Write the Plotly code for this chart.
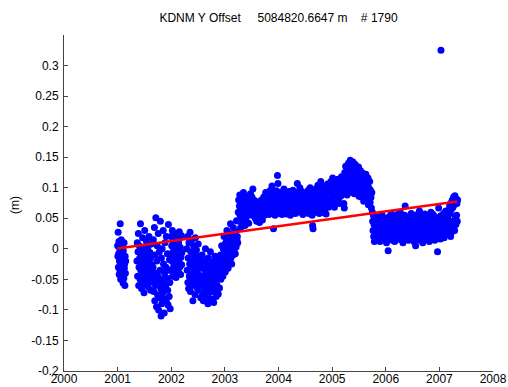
import numpy as np
import plotly.graph_objects as go

# ---- data (in mm) ----
seg_epochs = [
    (2001.00, 2001.15),  # A
    (2001.36, 2001.65),  # B1
    (2001.66, 2001.98),  # B2
    (2001.99, 2002.20),  # B3
    (2002.29, 2002.55),  # C1
    (2002.56, 2002.90),  # C2
    (2002.91, 2003.24),  # C3
    (2003.25, 2003.45),  # D1
    (2003.46, 2003.85),  # D2
    (2003.86, 2004.50),  # D3
    (2004.51, 2004.95),  # D4
    (2004.96, 2005.20),  # D5
    (2005.21, 2005.50),  # D6
    (2005.51, 2005.74),  # D7
    (2005.75, 2005.82),  # E1
    (2005.83, 2007.15),  # E2
    (2007.16, 2007.34),  # E3
]

seg_A = [5, -12, 27, -30, -8, 12, -42, -20, 0, -35, 41, -18, -50, -5, 15, -28,
         -45, -10, 8, -38, -22, -56, -3, -15, -48, 10, -32, -25, -60, -12, -40, -20]
seg_B1 = [-20, 10, -45, -5, 25, -60, -30, 5, -15, -50, 41, -35, -10, -65, 0, -25,
          18, -55, -40, -8, -72, -18, 30, -48, -2, -33, -58, 12, -22, -44, -12, 3,
          -62, -28, 20, -38, -52, -6, -16, -68, 8, -42, -26, -54, -35]
seg_B2 = [-30, 15, -70, -50, 35, -85, -10, -60, 51, -40, -95, -20, 5, -75, -45, 25,
          -100, -55, -5, -80, -35, 45, -65, -110, -15, -90, 0, -50, -72, 30, -25,
          -58, -105, -40, 10, -82, -62, -30, 20, -88, -48, -8, -68, -92, 40, -35,
          -78, -18, -55, -98]
seg_B3 = [-10, 20, -35, 5, -20, 30, -45, -5, 12, -28, -15, 25, -40, 0, -22, 15, -47,
          -12, 8, -32, 18, -25, -3, -38, 10, -18, 28, -30, -8, 2, -42, -14, 22, -26, -6]
seg_C1 = [0, -35, 20, -55, -15, -65, 10, -45, -25, 27, -70, -5, -50, -30, 15, -60,
          -20, -85, -40, 5, -10, -55, -35, -75, 18, -28, -48, -2, -62, -38, -18, -68,
          8, -42, -58, -12, -32, -52, -22, -80]
seg_C2 = [-30, -60, -10, -75, -45, -85, -20, -55, -68, -35, 0, -80, -50, -25, -65, -40,
          -90, -15, -58, -72, -30, -48, -5, -62, -82, -38, -52, -22, -70, -44, -88, -28,
          -56, -12, -66, -42, -78, -34, -60, -18, -50, -74, -26, -46, -64]
seg_C3 = [-40, -10, -50, -25, 5, -35, -15, -45, 0, -30, 20, -20, -5, -38, 10, -28, -12,
          30, -22, 2, -32, 15, -8, -18, 25, -2, 41, -15, 8, -25, 18, 0, -10, 35, 5, -5,
          22, 12, -8, 28, 3, 46, 15, 20, 10]
seg_D1 = [60, 80, 45, 70, 88, 55, 34, 75, 65, 50, 85, 40, 72, 58, 92, 48, 68, 78, 38,
          62, 82, 52, 74, 44, 66, 86, 56, 70, 42, 76]
seg_D2 = [75, 60, 90, 68, 55, 85, 72, 98, 62, 80, 58, 70, 50, 78, 65, 45, 72, 55, 62,
          48, 68, 43, 75, 58, 52, 80, 64, 47, 70, 60, 85, 55, 76, 66, 92, 58, 72, 82,
          62, 88, 68, 56, 78, 95, 65]
seg_D3 = [70, 85, 103, 60, 78, 33, 90, 65, 55, 82, 72, 95, 62, 120, 107, 68, 88, 58, 76,
          92, 64, 80, 56, 72, 86, 60, 98, 70, 62, 84, 74, 57, 90, 66, 78, 60, 94, 70, 82,
          55, 76, 88, 64, 72, 96, 60, 80, 68, 86, 58, 74, 92, 66, 107, 78, 62, 88, 70,
          100, 60, 82, 74, 94, 64, 56, 86, 72, 90, 66, 80]
seg_D4 = [75, 90, 62, 84, 70, 96, 58, 80, 68, 100, 64, 86, 72, 55, 38, 33, 78, 92, 66,
          82, 60, 98, 74, 88, 62, 104, 70, 84, 58, 94, 76, 110, 66, 90, 80, 60, 102, 72,
          86, 64, 96, 78, 57, 92, 70, 106, 82, 68, 98, 76]
seg_D5 = [95, 80, 110, 72, 100, 88, 116, 78, 104, 92, 68, 108, 84, 98, 112, 76, 102, 90,
          114, 82, 106, 94, 74, 110, 86, 100, 118, 90, 108, 96]
seg_D6 = [110, 74, 67, 125, 95, 135, 105, 118, 88, 130, 100, 140, 112, 92, 126, 145, 104,
          120, 136, 96, 114, 142, 108, 128, 90, 122, 138, 102, 116, 132, 98, 124, 110,
          134, 86]
seg_D7 = [120, 95, 128, 105, 85, 115, 100, 124, 90, 110, 78, 118, 98, 108, 86, 122, 94,
          112, 80, 104, 116, 72, 100, 88, 110, 76, 96, 84, 67, 92]
seg_E1 = [60, 45, 30, 55, 20, 40, 12, 50, 28, 35, 15, 45]
seg_E2 = [30, 45, 18, 52, 25, 38, 12, 48, 22, 35,
          55, 15, 42, 28, 50, 20, 33, 46, 10, 40,
          26, -3, 36, 53, 16, 44, 24, 58, 30, 14,
          48, 22, 38, 12, 52, 28, 42, 18, 56, 34,
          20, 46, 26, 60, 15, 40, 30, 50, 10, 36,
          24, 55, 70, 32, 18, 44, 28, 52, 14, 38,
          22, 48, 30, 58, 16, 42, 26, 54, 12, 36,
          20, 5, 46, 28, 56, 18, 40, 32, 62, 14,
          44, 24, 52, 30, 10, 48, 20, 38, 57, 26,
          42, 16, 54, 34, 22, 50, 12, 40, 28, 60,
          18, 46, 32, 56, 24, 38, 14, 52, 30, 44,
          20, -5, 48, 67, 26, 40, 16, 54, 34, 22,
          50, 28, 58, 18, 44, 36, 62, 24, 48, 32]
seg_E3 = [40, 55, 25, 62, 45, 70, 30, 58, 20, 75, 38, 65, 28, 80, 42, 68, 35, 85, 46,
          72, 30, 87, 50, 78, 40, 82, 55, 74, 45, 80]

outlier_t = [2007.03]
outlier_y_mm = [325]

trend_t = [2001.0, 2007.33]
trend_y = [0.0005, 0.0776]

x_ticks = [2000, 2001, 2002, 2003, 2004, 2005, 2006, 2007, 2008]
y_ticks = [-0.2, -0.15, -0.1, -0.05, 0, 0.05, 0.1, 0.15, 0.2, 0.25, 0.3]
y_tick_labels = ["-0.2", "-0.15", "-0.1", "-0.05", "0", "0.05", "0.1", "0.15",
                 "0.2", "0.25", "0.3"]

segments = [seg_A, seg_B1, seg_B2, seg_B3, seg_C1, seg_C2, seg_C3, seg_D1, seg_D2,
            seg_D3, seg_D4, seg_D5, seg_D6, seg_D7, seg_E1, seg_E2, seg_E3]

t_all, y_all = [], []
for (t0, t1), vals in zip(seg_epochs, segments):
    t_all.extend(np.linspace(t0, t1, len(vals)).tolist())
    y_all.extend([v / 1000.0 for v in vals])
t_all += outlier_t
y_all += [v / 1000.0 for v in outlier_y_mm]

fig = go.Figure()
fig.add_trace(go.Scatter(x=t_all, y=y_all, mode="markers",
                         marker=dict(color="#0000FF", size=7, line=dict(width=0)),
                         hoverinfo="skip", showlegend=False))
fig.add_trace(go.Scatter(x=trend_t, y=trend_y, mode="lines",
                         line=dict(color="#FF0000", width=2.5),
                         hoverinfo="skip", showlegend=False))

font_family = "Liberation Sans, Arial, sans-serif"
axis_common = dict(showgrid=False, zeroline=False, showline=True, linecolor="#444444",
                   linewidth=1, ticks="inside", ticklen=4, tickcolor="#444444",
                   tickfont=dict(family=font_family, size=12, color="#000000"),
                   automargin=False, mirror=False)

W, H = 508, 387
L, R, T, B = 64, 15, 35, 16
fig.update_layout(
    width=W, height=H,
    margin=dict(l=L, r=R, t=T, b=B, pad=0),
    paper_bgcolor="white", plot_bgcolor="white",
    title=dict(text="KDNM Y Offset\u00a0\u00a0\u00a0\u00a0\u00a05084820.6647 m\u00a0\u00a0\u00a0\u00a0# 1790",
               x=278.5 / W, xanchor="center", y=1 - 18 / H, yanchor="middle",
               font=dict(family=font_family, size=12, color="#000000")),
    xaxis=dict(range=[2000, 2008], tickvals=x_ticks, ticklabelstandoff=-3,
               ticktext=[str(v) for v in x_ticks], **axis_common),
    yaxis=dict(range=[-0.2, 0.35], tickvals=y_ticks, ticktext=y_tick_labels,
               ticklabelstandoff=2, **axis_common),
    annotations=[dict(text="(m)", xref="paper", yref="paper",
                      x=(15 - L) / (W - L - R),
                      y=0.494, xanchor="center", yanchor="middle", textangle=-90,
                      showarrow=False,
                      font=dict(family=font_family, size=12, color="#000000"))],
)

fig.write_html("out.html", config={"displayModeBar": False},
               post_script="document.body.style.margin='0';"
                           "document.body.style.overflow='hidden';")
